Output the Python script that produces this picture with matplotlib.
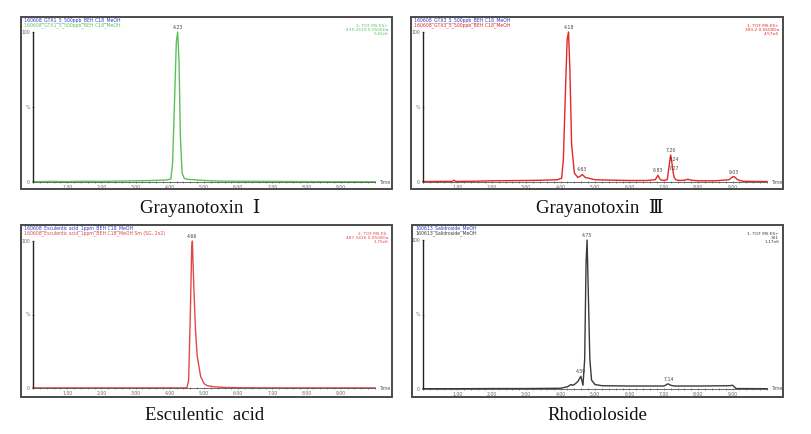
import matplotlib.pyplot as plt
from matplotlib.patches import Rectangle
from matplotlib.ticker import MultipleLocator

W, H = 812, 434

# retention time (min) and relative intensity (%)
gtx1_time = [0.0, 0.5, 1.0, 1.5, 2.0, 2.5, 3.0, 3.5, 3.9, 4.03, 4.08, 4.14, 4.19, 4.23,
             4.27, 4.31, 4.36, 4.42, 4.5, 4.7, 5.0, 5.5, 6.0, 7.0, 8.0, 9.0, 10.0]
gtx1_int = [0.2, 0.4, 0.3, 0.5, 0.4, 0.6, 0.8, 1.0, 1.3, 2.0, 12, 55, 93, 100,
            80, 30, 6, 2.5, 1.8, 1.5, 1.0, 0.6, 0.5, 0.4, 0.3, 0.2, 0.2]
gtx1_lbl_time = [4.23]
gtx1_lbl_int = [100]
gtx1_lbl_text = ['4.23']

gtx3_time = [0.0, 0.5, 0.85, 0.9, 0.95, 1.5, 2.0, 2.5, 3.0, 3.5, 3.9, 4.03, 4.08, 4.14,
             4.19, 4.23, 4.27, 4.32, 4.4, 4.5, 4.58, 4.63, 4.72, 5.0, 5.5, 6.0, 6.5,
             6.75, 6.83, 6.9, 7.0, 7.1, 7.15, 7.2, 7.23, 7.26, 7.3, 7.35, 7.45, 7.6,
             7.7, 7.8, 8.0, 8.5, 8.9, 9.0, 9.05, 9.15, 9.3, 9.6, 10.0]
gtx3_int = [0.3, 0.4, 0.4, 1.2, 0.4, 0.5, 0.8, 0.9, 1.0, 1.2, 1.5, 2.5, 15, 60,
            95, 100, 75, 25, 6, 3, 4, 5, 3, 1.5, 1.2, 1.0, 1.0,
            1.5, 4.5, 1.5, 1.0, 1.5, 10, 18, 14, 8, 3, 1.5, 1.0, 1.2,
            1.8, 1.2, 0.8, 0.8, 1.5, 3.5, 3.5, 1.5, 0.5, 0.4, 0.3]
gtx3_lbl_time = [4.23, 4.63, 6.83, 7.2, 7.3, 7.3, 9.03]
gtx3_lbl_int = [100, 5, 4.5, 18, 12, 6, 3.5]
gtx3_lbl_text = ['4.18', '4.63', '6.83', '7.20', '7.24', '7.27', '9.03']

esc_time = [0.0, 1.0, 2.0, 3.0, 4.0, 4.5, 4.55, 4.6, 4.64, 4.66, 4.7, 4.75, 4.8,
            4.9, 5.0, 5.1, 5.3, 5.6, 6.0, 7.0, 8.0, 9.0, 10.0]
esc_int = [0.1, 0.1, 0.1, 0.1, 0.1, 0.1, 5, 50, 95, 100, 70, 40, 22,
           8, 3, 1.5, 0.8, 0.4, 0.2, 0.1, 0.1, 0.1, 0.1]
esc_lbl_time = [4.66]
esc_lbl_int = [100]
esc_lbl_text = ['4.66']

rho_time = [0.0, 1.0, 2.0, 3.0, 4.0, 4.2, 4.3, 4.35, 4.4, 4.5, 4.55, 4.59, 4.65,
            4.7, 4.74, 4.77, 4.8, 4.85, 4.9, 5.0, 5.2, 6.0, 7.0, 7.05, 7.12, 7.2,
            7.3, 8.0, 8.9, 9.0, 9.05, 9.1, 10.0]
rho_int = [0.2, 0.2, 0.3, 0.3, 0.5, 1.5, 3.0, 2.5, 3.0, 5.0, 7.0, 8.5, 2.5,
           20, 85, 100, 70, 20, 6, 3.0, 2.2, 2.0, 2.0, 2.5, 3.5, 2.5,
           2.0, 2.0, 2.2, 2.5, 1.5, 0.3, 0.2]
rho_lbl_time = [4.77, 4.59, 7.14]
rho_lbl_int = [100, 8.5, 3.5]
rho_lbl_text = ['4.75', '4.59', '7.14']

# file names / scan info printed at the top of each chromatogram
gtx1_header = ['160608_GTX1_5_500ppb_BEH C18_MeOH', '160608_GTX1_5_500ppb_BEH C18_MeOH']
gtx1_info = ['1: TOF MS ES+', '435.2519 0.0500Da', '5.40e6']
gtx3_header = ['160608_GTX3_5_500ppb_BEH C18_MeOH', '160608_GTX3_5_500ppb_BEH C18_MeOH']
gtx3_info = ['1: TOF MS ES+', '393.2 0.0500Da', '4.57e4']
esc_header = ['160608_Esculentic acid_1ppm_BEH C18_MeOH',
              '160608_Esculentic acid_1ppm_BEH C18_MeOH Sm (SG, 2x2)']
esc_info = ['2: TOF MS ES-', '487.3416 0.0500Da', '1.70e6']
rho_header = ['160613_Salidroside_MeOH', '160613_Salidroside_MeOH']
rho_info = ['1: TOF MS ES+', '301', '1.17e6']

x_ticks = [1, 2, 3, 4, 5, 6, 7, 8, 9]
x_tick_labels = ['1.00', '2.00', '3.00', '4.00', '5.00', '6.00', '7.00', '8.00', '9.00']

CAP_FONT = ['Liberation Serif', 'DejaVu Serif', 'Noto Sans CJK KR']


def fig_box(x0, y0, x1, y1):
    return [x0 / W, 1 - y1 / H, (x1 - x0) / W, (y1 - y0) / H]


def draw_panel(fig, frame, plot, time, inten, color, lbl_t, lbl_y, lbl_txt,
               header, info, caption, cap_xy):
    fx0, fy0, fx1, fy1 = frame
    fig.patches.append(Rectangle((fx0 / W, 1 - fy1 / H), (fx1 - fx0) / W, (fy1 - fy0) / H,
                                 transform=fig.transFigure, fill=False,
                                 lw=1.4, ec='#4a4a4a'))

    ax = fig.add_axes(fig_box(*plot))
    ax.plot(time, inten, color=color, lw=1.0, clip_on=False)
    ax.set_xlim(0, 10)
    ax.set_ylim(0, 100)
    ax.patch.set_alpha(0)
    for s in ['top', 'right']:
        ax.spines[s].set_visible(False)
    ax.spines['left'].set_color('#222222')
    ax.spines['left'].set_linewidth(1.0)
    ax.spines['bottom'].set_color('#555555')
    ax.spines['bottom'].set_linewidth(0.6)
    ax.set_xticks(x_ticks)
    ax.set_xticklabels(x_tick_labels)
    ax.xaxis.set_minor_locator(MultipleLocator(0.2))
    ax.set_yticks([0, 50, 100])
    ax.set_yticklabels(['0', '%', '100'])
    ax.tick_params(which='both', labelsize=3.3, colors='#666666', length=1.5,
                   width=0.5, pad=1.5, direction='inout')
    ax.tick_params(which='minor', length=1.2)

    for t, y, s in zip(lbl_t, lbl_y, lbl_txt):
        ax.annotate(s, (t, y), xytext=(0, 1.5), textcoords='offset points',
                    ha='center', va='bottom', fontsize=3.3, color='#444444',
                    annotation_clip=False)

    ax.text(1.012, 0, 'Time', transform=ax.transAxes, fontsize=3.3,
            color='#555555', va='center', ha='left')

    fig.text((fx0 + 3) / W, 1 - (fy0 + 3) / H, header[0], fontsize=3.3,
             color='#2a3cc0', va='center', ha='left')
    fig.text((fx0 + 3) / W, 1 - (fy0 + 8) / H, header[1], fontsize=3.3,
             color=color, va='center', ha='left')
    for i, s in enumerate(info):
        fig.text((fx1 - 4) / W, 1 - (fy0 + 9 + 4 * i) / H, s, fontsize=3.1,
                 color=color, va='center', ha='right')

    fig.text(cap_xy[0] / W, 1 - cap_xy[1] / H, caption, fontsize=13.5,
             family=CAP_FONT, color='#111111', ha='center', va='center')


fig = plt.figure(figsize=(W / 100, H / 100), dpi=100)

draw_panel(fig, (21, 17, 392, 189), (33, 32, 375, 182),
           gtx1_time, gtx1_int, '#5cc05c',
           gtx1_lbl_time, gtx1_lbl_int, gtx1_lbl_text,
           gtx1_header, gtx1_info, 'Grayanotoxin  \u2160', (200, 208))
draw_panel(fig, (411, 17, 783, 189), (423, 32, 767, 182),
           gtx3_time, gtx3_int, '#e02828',
           gtx3_lbl_time, gtx3_lbl_int, gtx3_lbl_text,
           gtx3_header, gtx3_info, 'Grayanotoxin  \u2162', (600, 208))
draw_panel(fig, (21, 225, 392, 397), (33, 241, 375, 388),
           esc_time, esc_int, '#e04848',
           esc_lbl_time, esc_lbl_int, esc_lbl_text,
           esc_header, esc_info, 'Esculentic  acid', (205, 415))
draw_panel(fig, (412, 225, 783, 397), (423, 240, 767, 389),
           rho_time, rho_int, '#3a3a3a',
           rho_lbl_time, rho_lbl_int, rho_lbl_text,
           rho_header, rho_info, 'Rhodioloside', (597, 415))

fig.savefig('out.png', dpi=100)
